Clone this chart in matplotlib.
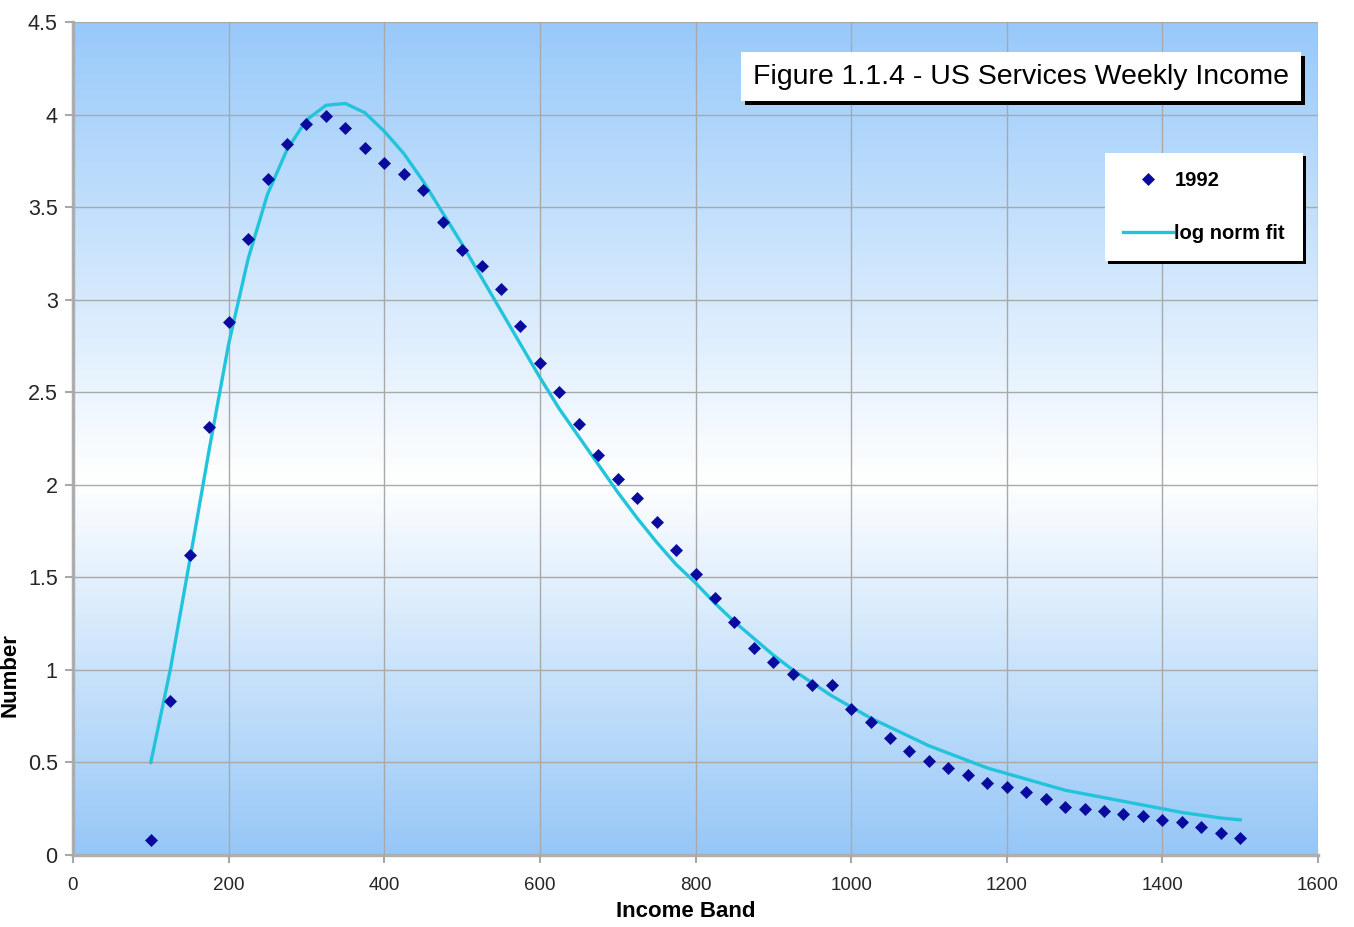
import numpy as np
import matplotlib
matplotlib.use("Agg")
import matplotlib.pyplot as plt
from matplotlib.colors import LinearSegmentedColormap
from matplotlib.patches import Rectangle

# income bands (weekly, $)
income = [100, 125, 150, 175, 200, 225, 250, 275, 300, 325,
          350, 375, 400, 425, 450, 475, 500, 525, 550, 575,
          600, 625, 650, 675, 700, 725, 750, 775, 800, 825,
          850, 875, 900, 925, 950, 975, 1000, 1025, 1050, 1075,
          1100, 1125, 1150, 1175, 1200, 1225, 1250, 1275, 1300, 1325,
          1350, 1375, 1400, 1425, 1450, 1475, 1500]

# 1992 observed counts
obs_1992 = [0.08, 0.83, 1.62, 2.31, 2.88, 3.33, 3.65, 3.84, 3.95, 3.99,
            3.93, 3.82, 3.74, 3.68, 3.59, 3.42, 3.27, 3.18, 3.06, 2.86,
            2.66, 2.50, 2.33, 2.16, 2.03, 1.93, 1.80, 1.65, 1.52, 1.39,
            1.26, 1.12, 1.04, 0.98, 0.92, 0.92, 0.79, 0.72, 0.63, 0.56,
            0.51, 0.47, 0.43, 0.39, 0.37, 0.34, 0.30, 0.26, 0.25, 0.24,
            0.22, 0.21, 0.19, 0.18, 0.15, 0.12, 0.09]

# log normal fit curve
fit = [0.50, 1.00, 1.59, 2.19, 2.76, 3.22, 3.57, 3.81, 3.97, 4.05,
       4.06, 4.01, 3.91, 3.79, 3.64, 3.47, 3.30, 3.12, 2.94, 2.76,
       2.58, 2.41, 2.26, 2.11, 1.96, 1.82, 1.69, 1.57, 1.47, 1.36,
       1.26, 1.17, 1.08, 1.00, 0.93, 0.86, 0.80, 0.74, 0.69, 0.64,
       0.59, 0.55, 0.51, 0.47, 0.44, 0.41, 0.38, 0.35, 0.33, 0.31,
       0.29, 0.27, 0.25, 0.23, 0.215, 0.20, 0.19]

TITLE = "Figure 1.1.4 - US Services Weekly Income"
W, H = 1354, 927

plt.rcParams["font.family"] = ["Liberation Sans", "DejaVu Sans"]

fig = plt.figure(figsize=(W / 100, H / 100), dpi=100, facecolor="white")
ax = fig.add_axes([73 / W, 1 - 855 / H, (1318 - 73) / W, (855 - 22) / H])

# Excel-style blue/white/blue background
bg = LinearSegmentedColormap.from_list(
    "bg", [(0.0, "#98c9fa"), (0.55, "#ffffff"), (1.0, "#96c7f7")])
ax.imshow(np.linspace(0, 1, 256).reshape(-1, 1), cmap=bg, aspect="auto",
          extent=[0, 1600, 0, 4.5], origin="upper", zorder=0)

ax.plot(income, fit, color="#22c4dc", lw=2.4, zorder=3, label="log norm fit")
ax.plot(income, obs_1992, ls="none", marker="D", ms=6.4, color="#0a0a9e",
        mec="#0a0a9e", mew=0.5, zorder=4, label="1992")

ax.set_xlim(0, 1600)
ax.set_ylim(0, 4.5)
ax.set_xticks(np.arange(0, 1601, 200))
ax.set_yticks(np.arange(0, 4.51, 0.5))
ax.set_yticklabels(["0", "0.5", "1", "1.5", "2", "2.5", "3", "3.5", "4", "4.5"])
ax.grid(True, color="#a9a9a9", lw=1.0, zorder=1)
ax.set_axisbelow(False)
for s in ("top", "right"):
    ax.spines[s].set_visible(False)
for s in ("left", "bottom"):
    ax.spines[s].set_color("#b0b0b0")
    ax.spines[s].set_linewidth(2.5)
ax.tick_params(direction="out", length=6, width=1.5, color="#a8a8a8",
               labelcolor="#262626")
ax.tick_params(axis="x", labelsize=13.5, pad=10)
ax.tick_params(axis="y", labelsize=15.5, pad=5)
ax.set_xlabel("Income Band", fontsize=16, fontweight="bold", labelpad=6)
ax.xaxis.set_label_coords(0.492, -0.055)
ax.set_ylabel("Number", fontsize=16, fontweight="bold")
ax.yaxis.set_label_coords(-0.042, 0.216)

# title box with hard black shadow
tx0, tx1, ty0, ty1 = 741, 1301, 52, 101
fig.patches.append(Rectangle((tx0 / W + 4 / W, 1 - ty1 / H - 4 / H),
                             (tx1 - tx0) / W, (ty1 - ty0) / H,
                             transform=fig.transFigure, fc="black", ec="none",
                             zorder=5))
fig.patches.append(Rectangle((tx0 / W, 1 - ty1 / H), (tx1 - tx0) / W,
                             (ty1 - ty0) / H, transform=fig.transFigure,
                             fc="white", ec="none", zorder=6))
fig.text((tx0 + tx1) / 2 / W, 1 - (ty0 + ty1) / 2 / H, TITLE, fontsize=20.5,
         ha="center", va="center", color="black", zorder=7)

handles, labels = ax.get_legend_handles_labels()
leg = ax.legend(handles[::-1], labels[::-1], loc="upper left",
                bbox_to_anchor=(1105 / W, 1 - 153 / H),
                bbox_transform=fig.transFigure, fancybox=False,
                shadow={"color": "black", "alpha": 1.0},
                framealpha=1.0, edgecolor="white", borderpad=0.9,
                labelspacing=1.7, handlelength=2.5, handletextpad=0.05,
                borderaxespad=0, prop={"size": 14.5, "weight": "bold"})
leg.get_frame().set_linewidth(0)

fig.savefig("out.png", dpi=100, facecolor="white")
